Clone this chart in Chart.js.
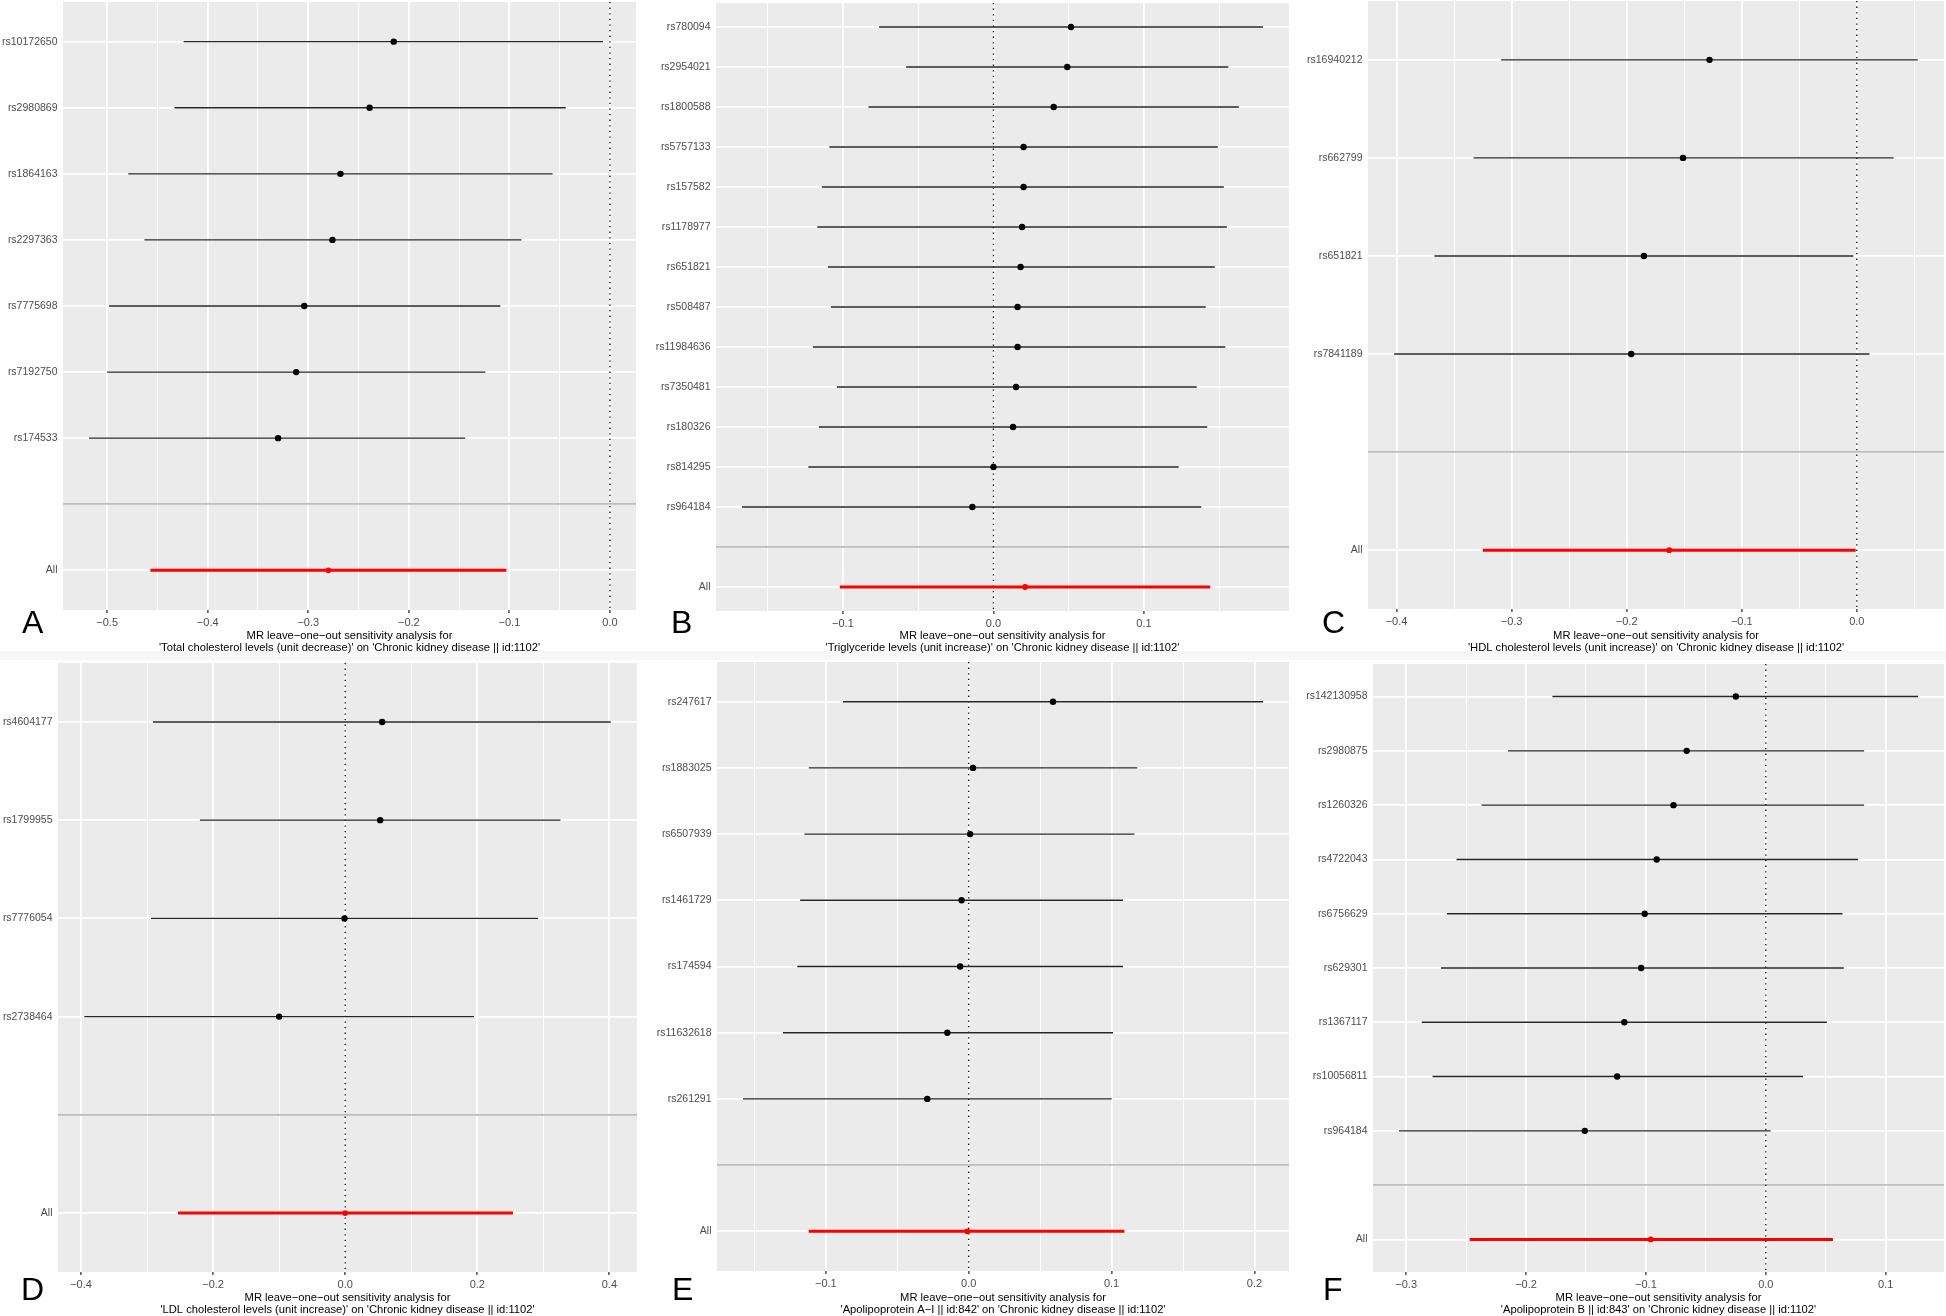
<!DOCTYPE html>
<html>
<head>
<meta charset="utf-8">
<script src="https://cdn.jsdelivr.net/npm/chart.js@4.4.0/dist/chart.umd.min.js"></script>
<style>
  html, body { margin: 0; padding: 0; background: #fff; }
  #fig { position: relative; width: 1946px; height: 1316px; overflow: hidden; background: #fff; }
  #fig canvas { position: absolute; }
  .tag { position: absolute; font: 32px "Liberation Sans", Arial, sans-serif; line-height: 32px; color: #000; }
  .band { position: absolute; left: 0; width: 1946px; top: 651px; height: 9px; background: #f7f7f7; }
</style>
</head>
<body>
<div id="fig"><div class="band"></div></div>
<script>
// A: total cholesterol
const snpsA = ['rs10172650', 'rs2980869', 'rs1864163', 'rs2297363', 'rs7775698', 'rs7192750', 'rs174533'];
const betaA = [-0.215, -0.239, -0.268, -0.276, -0.304, -0.312, -0.330];
const lowerA = [-0.424, -0.433, -0.479, -0.463, -0.498, -0.500, -0.518];
const upperA = [-0.007, -0.044, -0.057, -0.088, -0.109, -0.124, -0.144];
const allA = [-0.280, -0.457, -0.103]; // estimate, lower, upper
const ticksA = [-0.5, -0.4, -0.3, -0.2, -0.1, 0.0];

// B: triglycerides
const snpsB = ['rs780094', 'rs2954021', 'rs1800588', 'rs5757133', 'rs157582', 'rs1178977', 'rs651821',
  'rs508487', 'rs11984636', 'rs7350481', 'rs180326', 'rs814295', 'rs964184'];
const betaB = [0.0515, 0.049, 0.040, 0.020, 0.020, 0.019, 0.018, 0.016, 0.016, 0.015, 0.013, 0.000, -0.014];
const lowerB = [-0.076, -0.058, -0.083, -0.109, -0.114, -0.117, -0.110, -0.108, -0.120, -0.104, -0.116, -0.123, -0.167];
const upperB = [0.179, 0.156, 0.163, 0.149, 0.153, 0.155, 0.147, 0.141, 0.154, 0.135, 0.142, 0.123, 0.138];
const allB = [0.021, -0.102, 0.144];
const ticksB = [-0.1, 0.0, 0.1];

// C: HDL cholesterol
const snpsC = ['rs16940212', 'rs662799', 'rs651821', 'rs7841189'];
const betaC = [-0.128, -0.151, -0.185, -0.196];
const lowerC = [-0.309, -0.333, -0.367, -0.402];
const upperC = [0.053, 0.032, -0.003, 0.011];
const allC = [-0.163, -0.325, -0.001];
const ticksC = [-0.4, -0.3, -0.2, -0.1, 0.0];

// D: LDL cholesterol
const snpsD = ['rs4604177', 'rs1799955', 'rs7776054', 'rs2738464'];
const betaD = [0.056, 0.053, -0.001, -0.100];
const lowerD = [-0.291, -0.220, -0.294, -0.395];
const upperD = [0.402, 0.326, 0.292, 0.195];
const allD = [0.000, -0.253, 0.254];
const ticksD = [-0.4, -0.2, 0.0, 0.2, 0.4];

// E: apolipoprotein A-I
const snpsE = ['rs247617', 'rs1883025', 'rs6507939', 'rs1461729', 'rs174594', 'rs11632618', 'rs261291'];
const betaE = [0.059, 0.003, 0.001, -0.005, -0.006, -0.015, -0.029];
const lowerE = [-0.088, -0.112, -0.115, -0.118, -0.120, -0.130, -0.158];
const upperE = [0.206, 0.118, 0.116, 0.108, 0.108, 0.101, 0.100];
const allE = [-0.001, -0.112, 0.109];
const ticksE = [-0.1, 0.0, 0.1, 0.2];

// F: apolipoprotein B
const snpsF = ['rs142130958', 'rs2980875', 'rs1260326', 'rs4722043', 'rs6756629', 'rs629301', 'rs1367117', 'rs10056811', 'rs964184'];
const betaF = [-0.025, -0.066, -0.077, -0.091, -0.101, -0.104, -0.118, -0.124, -0.151];
const lowerF = [-0.178, -0.215, -0.237, -0.258, -0.266, -0.271, -0.287, -0.278, -0.306];
const upperF = [0.127, 0.082, 0.082, 0.077, 0.064, 0.065, 0.051, 0.031, 0.004];
const allF = [-0.096, -0.247, 0.056];
const ticksF = [-0.3, -0.2, -0.1, 0.0, 0.1];

const outcome = "'Chronic kidney disease || id:1102'";
const titleTop = 'MR leave\u2212one\u2212out sensitivity analysis for';

const FONT = '"Liberation Sans", Arial, Helvetica, sans-serif';

const panelBg = {
  id: 'panelBg',
  beforeDraw(chart) {
    const { ctx, chartArea: a } = chart;
    ctx.save();
    ctx.fillStyle = '#ebebeb';
    ctx.fillRect(a.left, a.top, a.right - a.left, a.bottom - a.top);
    ctx.restore();
  }
};

function fmt(v) {
  return v.toFixed(1).replace('-', '\u2212');
}

function makePanel(p) {
  const fig = document.getElementById('fig');
  const b = p.box;
  const canvas = document.createElement('canvas');
  canvas.width = b.w;
  canvas.height = b.h;
  canvas.style.left = b.x0 + 'px';
  canvas.style.top = b.y0 + 'px';
  fig.appendChild(canvas);

  const tag = document.createElement('div');
  tag.className = 'tag';
  tag.textContent = p.tag;
  tag.style.left = p.tagPos[0] + 'px';
  tag.style.top = (p.tagPos[1] - 27) + 'px';
  fig.appendChild(tag);

  const n = p.snps.length;
  const labels = p.snps.concat(['', 'All']);
  const lows = p.lower.concat([p.all[1], 0]);
  const highs = p.upper.concat([p.all[2], 0]);
  const lo = Math.min(...lows), hi = Math.max(...highs);
  const pad = (hi - lo) * 0.05;
  const xMin = lo - pad, xMax = hi + pad;
  const yMin = -0.6, yMax = n + 1.6;

  const step = p.ticks[1] - p.ticks[0];
  const xTicks = [];
  p.ticks.forEach(m => {
    xTicks.push(m);
    [m - step / 2, m + step / 2].forEach(h => {
      if (h > xMin && h < xMax && !xTicks.some(t => Math.abs(t - h) < 1e-9)) xTicks.push(h);
    });
  });
  xTicks.sort((a, c) => a - c);
  const isMajor = v => p.ticks.some(m => Math.abs(m - v) < 1e-9);

  const datasets = [];
  datasets.push({
    data: p.beta.map((v, i) => ({ x: v, y: i })),
    backgroundColor: '#000', pointRadius: 3.2, pointBorderWidth: 0, order: 0
  });
  datasets.push({
    data: [{ x: p.all[0], y: n + 1 }],
    backgroundColor: '#ff0000', pointRadius: 2.9, pointBorderWidth: 0, order: 0
  });
  p.snps.forEach((s, i) => {
    datasets.push({
      showLine: true,
      data: [{ x: p.lower[i], y: i }, { x: p.upper[i], y: i }],
      borderColor: '#262626', borderWidth: 1.4, pointRadius: 0, order: 1
    });
  });
  datasets.push({
    showLine: true,
    data: [{ x: p.all[1], y: n + 1 }, { x: p.all[2], y: n + 1 }],
    borderColor: '#ff0000', borderWidth: 3, pointRadius: 0, order: 1
  });
  datasets.push({
    showLine: true,
    data: [{ x: 0, y: yMin }, { x: 0, y: yMax }],
    borderColor: '#000', borderWidth: 1.3, borderDash: [1.3, 4.3], pointRadius: 0, order: 2
  });

  const yW = b.left - b.x0;
  const xH = (b.y0 + b.h - b.pb) - b.bottom;

  new Chart(canvas, {
    type: 'scatter',
    data: { datasets },
    plugins: [panelBg],
    options: {
      responsive: false,
      animation: false,
      devicePixelRatio: 1,
      events: [],
      layout: {
        autoPadding: false,
        padding: { left: 0, top: b.top - b.y0, right: b.x0 + b.w - b.right, bottom: b.pb }
      },
      plugins: { legend: { display: false }, tooltip: { enabled: false } },
      scales: {
        x: {
          type: 'linear', min: xMin, max: xMax,
          afterBuildTicks: s => { s.ticks = xTicks.map(v => ({ value: v })); },
          afterFit: s => { s.height = xH; s.paddingLeft = 0; s.paddingRight = 0; },
          border: { display: false },
          grid: {
            color: '#ffffff',
            lineWidth: c => isMajor(c.tick.value) ? 1.8 : 0.9,
            tickColor: c => isMajor(c.tick.value) ? '#333333' : 'rgba(0,0,0,0)',
            tickLength: 3, tickWidth: 1.3
          },
          ticks: {
            autoSkip: false, maxRotation: 0, padding: 3,
            color: '#4d4d4d', font: { family: FONT, size: 11 },
            callback: v => isMajor(v) ? fmt(v) : ''
          },
          title: {
            display: true, text: [titleTop, p.title],
            color: '#000', font: { family: FONT, size: 11.2, lineHeight: 1.07 },
            padding: { top: 0, bottom: 0 }
          }
        },
        y: {
          type: 'linear', reverse: true, min: yMin, max: yMax,
          afterBuildTicks: s => { s.ticks = labels.map((l, i) => ({ value: i })); },
          afterFit: s => { s.width = yW; s.paddingTop = 0; s.paddingBottom = 0; },
          border: { display: false },
          grid: {
            color: c => c.tick.value === n ? '#bebebe' : '#ffffff',
            lineWidth: 1.8,
            tickColor: 'rgba(0,0,0,0)', tickLength: 3
          },
          ticks: {
            autoSkip: false, padding: 2.5,
            color: '#4d4d4d', font: { family: FONT, size: 10.5 },
            callback: v => labels[v] !== undefined ? labels[v] : ''
          }
        }
      }
    }
  });
}

const panels = [
  { tag: 'A', snps: snpsA, beta: betaA, lower: lowerA, upper: upperA, all: allA, ticks: ticksA,
    title: "'Total cholesterol levels (unit decrease)' on " + outcome,
    box: { x0: 0, y0: 0, w: 640, h: 656, left: 63, top: 2, right: 636, bottom: 610, pb: 2 }, tagPos: [22, 633] },
  { tag: 'B', snps: snpsB, beta: betaB, lower: lowerB, upper: upperB, all: allB, ticks: ticksB,
    title: "'Triglyceride levels (unit increase)' on " + outcome,
    box: { x0: 642, y0: 0, w: 650, h: 656, left: 716, top: 3, right: 1289, bottom: 611, pb: 2 }, tagPos: [671, 633] },
  { tag: 'C', snps: snpsC, beta: betaC, lower: lowerC, upper: upperC, all: allC, ticks: ticksC,
    title: "'HDL cholesterol levels (unit increase)' on " + outcome,
    box: { x0: 1294, y0: 0, w: 652, h: 656, left: 1368, top: 1, right: 1944, bottom: 609, pb: 2 }, tagPos: [1322, 633] },
  { tag: 'D', snps: snpsD, beta: betaD, lower: lowerD, upper: upperD, all: allD, ticks: ticksD,
    title: "'LDL cholesterol levels (unit increase)' on " + outcome,
    box: { x0: 0, y0: 660, w: 640, h: 656, left: 58, top: 663, right: 637, bottom: 1272, pb: 0 }, tagPos: [21, 1300] },
  { tag: 'E', snps: snpsE, beta: betaE, lower: lowerE, upper: upperE, all: allE, ticks: ticksE,
    title: "'Apolipoprotein A\u2212I || id:842' on " + outcome,
    box: { x0: 642, y0: 660, w: 650, h: 656, left: 717, top: 662, right: 1289, bottom: 1271, pb: 0 }, tagPos: [672, 1300] },
  { tag: 'F', snps: snpsF, beta: betaF, lower: lowerF, upper: upperF, all: allF, ticks: ticksF,
    title: "'Apolipoprotein B || id:843' on " + outcome,
    box: { x0: 1294, y0: 660, w: 652, h: 656, left: 1373, top: 664, right: 1944, bottom: 1272, pb: 0 }, tagPos: [1323, 1300] }
];

panels.forEach(makePanel);
</script>
</body>
</html>
